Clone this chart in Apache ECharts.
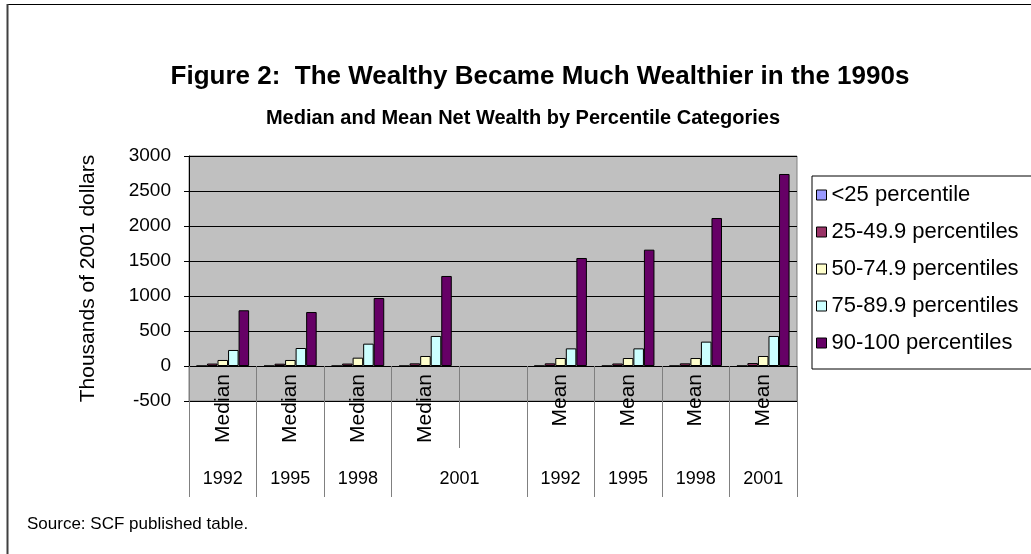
<!DOCTYPE html>
<html>
<head>
<meta charset="utf-8">
<script src="https://cdn.jsdelivr.net/npm/echarts@6/dist/echarts.min.js"></script>
<style>
html, body { margin: 0; padding: 0; background: #fff; }
#chart { width: 1031px; height: 554px; }
</style>
</head>
<body>
<div id="chart"></div>
<script>
// categories: 4 median years, an empty slot, 4 mean years
const measures = ['Median', 'Median', 'Median', 'Median', '', 'Mean', 'Mean', 'Mean', 'Mean'];
const years = ['1992', '1995', '1998', '2001', '', '1992', '1995', '1998', '2001'];
const seriesNames = ['<25 percentile', '25-49.9 percentiles', '50-74.9 percentiles', '75-89.9 percentiles', '90-100 percentiles'];
// thousands of 2001 dollars
const below25 = [1, 1, 1, 1, null, 2, 2, 2, 2];
const p25to50 = [35, 33, 35, 38, null, 38, 36, 38, 42];
const p50to75 = [86, 86, 119, 143, null, 114, 114, 114, 143];
const p75to90 = [229, 257, 319, 429, null, 252, 252, 348, 429];
const p90to100 = [796, 771, 971, 1286, null, 1543, 1662, 2114, 2743];
const yTicks = { min: -500, max: 3000, interval: 500 };

const colors = ['#9999FF', '#993366', '#FFFFCC', '#CCFFFF', '#660066'];
const font = 'Liberation Sans, Arial, sans-serif';

const chart = echarts.init(document.getElementById('chart'));

const values = [below25, p25to50, p50to75, p75to90, p90to100];
const series = seriesNames.map((name, i) => ({
  name: name,
  type: 'bar',
  data: values[i],
  barGap: '0%',
  barCategoryGap: '22%',
  itemStyle: { color: colors[i], borderColor: '#000', borderWidth: 1 }
}));

const option = {
  backgroundColor: '#fff',
  animation: false,
  textStyle: { fontFamily: font },
  title: [
    {
      text: 'Figure 2:  The Wealthy Became Much Wealthier in the 1990s',
      left: 535, top: 59, textAlign: 'center',
      textStyle: { fontFamily: font, fontSize: 26, fontWeight: 'bold', color: '#000' }
    },
    {
      text: 'Median and Mean Net Wealth by Percentile Categories',
      left: 518, top: 103, textAlign: 'center',
      textStyle: { fontFamily: font, fontSize: 20, fontWeight: 'bold', color: '#000' }
    }
  ],
  legend: {
    orient: 'vertical',
    left: 812, top: 176,
    padding: [8, 14, 15, 4],
    itemWidth: 10, itemHeight: 10, itemGap: 15,
    icon: 'rect',
    borderColor: '#000', borderWidth: 1,
    itemStyle: { borderColor: '#000', borderWidth: 1 },
    textStyle: { fontFamily: font, fontSize: 22, color: '#000' },
    data: seriesNames
  },
  grid: {
    left: 189, right: 234, top: 156, bottom: 153,
    show: true, backgroundColor: '#C0C0C0', borderColor: '#808080', borderWidth: 1
  },
  xAxis: [
    {
      // drawn where y = 0 crosses, 35px above the plot bottom
      type: 'category',
      data: measures,
      position: 'bottom',
      offset: -35,
      axisLine: { onZero: false, lineStyle: { color: '#000', width: 1 } },
      axisTick: { show: true, interval: 0, length: 82, lineStyle: { color: '#808080' } },
      axisLabel: { interval: 0, rotate: 90, margin: 8, fontSize: 21, color: '#000', hideOverlap: false }
    },
    {
      type: 'category',
      data: years,
      position: 'bottom',
      offset: 47,
      axisLine: { show: false, onZero: false },
      axisTick: { show: true, length: 49, interval: (i) => i !== 4, lineStyle: { color: '#808080' } },
      axisLabel: {
        interval: 0, margin: 22, fontSize: 18, color: '#000',
        formatter: (v, i) => (i === 3 ? '{wide|' + v + '}' : v),
        rich: { wide: { padding: [0, 0, 0, 68], fontSize: 18, color: '#000' } }
      }
    }
  ],
  yAxis: {
    type: 'value',
    min: yTicks.min, max: yTicks.max, interval: yTicks.interval,
    name: 'Thousands of 2001 dollars',
    nameLocation: 'middle', nameRotate: 90, nameGap: 90,
    nameTextStyle: { fontFamily: font, fontSize: 21, color: '#000' },
    axisLine: { show: true, lineStyle: { color: '#000' } },
    axisTick: { show: true, length: 5, lineStyle: { color: '#000' } },
    axisLabel: { fontSize: 19, color: '#000', margin: 18, formatter: (v) => String(v) },
    splitLine: { show: true, lineStyle: { color: '#000', width: 1 } }
  },
  graphic: [
    { type: 'line', shape: { x1: 7, y1: 4.5, x2: 1031, y2: 4.5 }, style: { stroke: '#000', lineWidth: 1 } },
    { type: 'line', shape: { x1: 7.5, y1: 4, x2: 7.5, y2: 554 }, style: { stroke: '#404040', lineWidth: 2 } },
    {
      type: 'text', left: 27, top: 516,
      style: { text: 'Source: SCF published table.', fontFamily: font, fontSize: 17, fill: '#000' }
    }
  ],
  series: series
};

chart.setOption(option);
</script>
</body>
</html>
